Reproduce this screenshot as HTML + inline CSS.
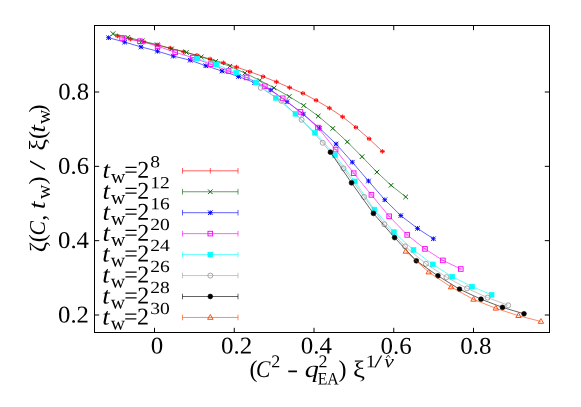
<!DOCTYPE html>
<html><head><meta charset="utf-8"><title>plot</title>
<style>
html,body{margin:0;padding:0;background:#fff;}
svg{display:block;will-change:transform;opacity:0.999;}
text{font-family:"Liberation Serif",serif;fill:#000;}
.i{font-style:italic;}
</style></head><body>
<svg width="581" height="407" viewBox="0 0 581 407">
<g stroke-width="0.62"><path d="M117.4 36.0L130.4 39.1L143.9 42.0L157.1 45.0L170.4 48.2L183.6 51.7L196.9 55.3L210.1 59.0L223.4 62.8L236.6 67.1L249.9 71.7L263.1 76.6L276.4 81.9L289.6 87.6L302.9 93.3L316.1 100.3L329.4 108.1L342.6 116.8L355.9 127.3L369.1 138.8L382.4 151.4" stroke="#ff0000" fill="none"/>
<path d="M115.1 36.0H119.7M117.4 33.7V38.3M116.0 34.5v3M118.8 34.5v3" stroke="#ff0000" fill="none" stroke-width="0.95"/><path d="M128.1 39.1H132.7M130.4 36.8V41.4M129.0 37.6v3M131.8 37.6v3" stroke="#ff0000" fill="none" stroke-width="0.95"/><path d="M141.6 42.0H146.2M143.9 39.7V44.3M142.5 40.5v3M145.3 40.5v3" stroke="#ff0000" fill="none" stroke-width="0.95"/><path d="M154.8 45.0H159.4M157.1 42.7V47.3M155.7 43.5v3M158.5 43.5v3" stroke="#ff0000" fill="none" stroke-width="0.95"/><path d="M168.1 48.2H172.7M170.4 45.9V50.5M169.0 46.7v3M171.8 46.7v3" stroke="#ff0000" fill="none" stroke-width="0.95"/><path d="M181.3 51.7H185.9M183.6 49.4V54.0M182.2 50.2v3M185.0 50.2v3" stroke="#ff0000" fill="none" stroke-width="0.95"/><path d="M194.6 55.3H199.2M196.9 53.0V57.6M195.5 53.8v3M198.3 53.8v3" stroke="#ff0000" fill="none" stroke-width="0.95"/><path d="M207.8 59.0H212.4M210.1 56.7V61.3M208.7 57.5v3M211.5 57.5v3" stroke="#ff0000" fill="none" stroke-width="0.95"/><path d="M221.1 62.8H225.7M223.4 60.5V65.1M222.0 61.3v3M224.8 61.3v3" stroke="#ff0000" fill="none" stroke-width="0.95"/><path d="M234.3 67.1H238.9M236.6 64.8V69.4M235.2 65.6v3M238.0 65.6v3" stroke="#ff0000" fill="none" stroke-width="0.95"/><path d="M247.6 71.7H252.2M249.9 69.4V74.0M248.5 70.2v3M251.3 70.2v3" stroke="#ff0000" fill="none" stroke-width="0.95"/><path d="M260.8 76.6H265.4M263.1 74.3V78.9M261.7 75.1v3M264.5 75.1v3" stroke="#ff0000" fill="none" stroke-width="0.95"/><path d="M274.1 81.9H278.7M276.4 79.6V84.2M275.0 80.4v3M277.8 80.4v3" stroke="#ff0000" fill="none" stroke-width="0.95"/><path d="M287.3 87.6H291.9M289.6 85.3V89.9M288.2 86.1v3M291.0 86.1v3" stroke="#ff0000" fill="none" stroke-width="0.95"/><path d="M300.6 93.3H305.2M302.9 91.0V95.6M301.5 91.8v3M304.3 91.8v3" stroke="#ff0000" fill="none" stroke-width="0.95"/><path d="M313.8 100.3H318.4M316.1 98.0V102.6M314.7 98.8v3M317.5 98.8v3" stroke="#ff0000" fill="none" stroke-width="0.95"/><path d="M327.1 108.1H331.7M329.4 105.8V110.4M328.0 106.6v3M330.8 106.6v3" stroke="#ff0000" fill="none" stroke-width="0.95"/><path d="M340.3 116.8H344.9M342.6 114.5V119.1M341.2 115.3v3M344.0 115.3v3" stroke="#ff0000" fill="none" stroke-width="0.95"/><path d="M353.6 127.3H358.2M355.9 125.0V129.6M354.5 125.8v3M357.3 125.8v3" stroke="#ff0000" fill="none" stroke-width="0.95"/><path d="M366.8 138.8H371.4M369.1 136.5V141.1M367.7 137.3v3M370.5 137.3v3" stroke="#ff0000" fill="none" stroke-width="0.95"/><path d="M380.1 151.4H384.7M382.4 149.1V153.7M381.0 149.9v3M383.8 149.9v3" stroke="#ff0000" fill="none" stroke-width="0.95"/></g>
<g stroke-width="0.62"><path d="M113.0 33.7L127.8 37.4L142.2 40.9L157.2 44.7L171.6 48.9L186.4 52.4L201.2 56.9L215.6 61.4L229.9 66.2L244.9 73.1L259.8 80.4L274.1 87.9L289.2 96.5L303.7 105.5L318.2 116.1L332.8 128.4L347.3 141.9L362.0 156.7L376.9 172.1L391.1 185.3L405.7 196.9" stroke="#006400" fill="none"/>
<path d="M110.7 31.4L115.3 36.0M110.7 36.0L115.3 31.4" stroke="#006400" fill="none" stroke-width="0.95"/><path d="M125.5 35.1L130.1 39.7M125.5 39.7L130.1 35.1" stroke="#006400" fill="none" stroke-width="0.95"/><path d="M139.9 38.6L144.5 43.2M139.9 43.2L144.5 38.6" stroke="#006400" fill="none" stroke-width="0.95"/><path d="M154.9 42.4L159.5 47.0M154.9 47.0L159.5 42.4" stroke="#006400" fill="none" stroke-width="0.95"/><path d="M169.3 46.6L173.9 51.2M169.3 51.2L173.9 46.6" stroke="#006400" fill="none" stroke-width="0.95"/><path d="M184.1 50.1L188.7 54.7M184.1 54.7L188.7 50.1" stroke="#006400" fill="none" stroke-width="0.95"/><path d="M198.9 54.6L203.5 59.2M198.9 59.2L203.5 54.6" stroke="#006400" fill="none" stroke-width="0.95"/><path d="M213.3 59.1L217.9 63.7M213.3 63.7L217.9 59.1" stroke="#006400" fill="none" stroke-width="0.95"/><path d="M227.6 63.9L232.2 68.5M227.6 68.5L232.2 63.9" stroke="#006400" fill="none" stroke-width="0.95"/><path d="M242.6 70.8L247.2 75.4M242.6 75.4L247.2 70.8" stroke="#006400" fill="none" stroke-width="0.95"/><path d="M257.5 78.1L262.1 82.7M257.5 82.7L262.1 78.1" stroke="#006400" fill="none" stroke-width="0.95"/><path d="M271.8 85.6L276.4 90.2M271.8 90.2L276.4 85.6" stroke="#006400" fill="none" stroke-width="0.95"/><path d="M286.9 94.2L291.5 98.8M286.9 98.8L291.5 94.2" stroke="#006400" fill="none" stroke-width="0.95"/><path d="M301.4 103.2L306.0 107.8M301.4 107.8L306.0 103.2" stroke="#006400" fill="none" stroke-width="0.95"/><path d="M315.9 113.8L320.5 118.4M315.9 118.4L320.5 113.8" stroke="#006400" fill="none" stroke-width="0.95"/><path d="M330.5 126.1L335.1 130.7M330.5 130.7L335.1 126.1" stroke="#006400" fill="none" stroke-width="0.95"/><path d="M345.0 139.6L349.6 144.2M345.0 144.2L349.6 139.6" stroke="#006400" fill="none" stroke-width="0.95"/><path d="M359.7 154.4L364.3 159.0M359.7 159.0L364.3 154.4" stroke="#006400" fill="none" stroke-width="0.95"/><path d="M374.6 169.8L379.2 174.4M374.6 174.4L379.2 169.8" stroke="#006400" fill="none" stroke-width="0.95"/><path d="M388.8 183.0L393.4 187.6M388.8 187.6L393.4 183.0" stroke="#006400" fill="none" stroke-width="0.95"/><path d="M403.4 194.6L408.0 199.2M403.4 199.2L408.0 194.6" stroke="#006400" fill="none" stroke-width="0.95"/></g>
<g stroke-width="0.62"><path d="M108.6 37.7L124.7 42.1L141.0 46.9L157.5 51.2L173.4 56.1L190.2 60.2L205.8 65.8L222.0 71.0L238.5 76.5L254.6 82.6L270.7 90.0L287.0 101.7L303.3 114.2L319.5 128.2L336.1 144.0L352.3 162.2L368.5 181.0L384.8 199.8L400.8 215.6L417.5 228.4L433.4 238.8" stroke="#0000ff" fill="none"/>
<path d="M106.3 35.4L110.9 40.0M106.3 40.0L110.9 35.4M106.3 37.7H110.9M108.6 35.4V40.0" stroke="#0000ff" fill="none" stroke-width="0.95"/><path d="M122.4 39.8L127.0 44.4M122.4 44.4L127.0 39.8M122.4 42.1H127.0M124.7 39.8V44.4" stroke="#0000ff" fill="none" stroke-width="0.95"/><path d="M138.7 44.6L143.3 49.2M138.7 49.2L143.3 44.6M138.7 46.9H143.3M141.0 44.6V49.2" stroke="#0000ff" fill="none" stroke-width="0.95"/><path d="M155.2 48.9L159.8 53.5M155.2 53.5L159.8 48.9M155.2 51.2H159.8M157.5 48.9V53.5" stroke="#0000ff" fill="none" stroke-width="0.95"/><path d="M171.1 53.8L175.7 58.4M171.1 58.4L175.7 53.8M171.1 56.1H175.7M173.4 53.8V58.4" stroke="#0000ff" fill="none" stroke-width="0.95"/><path d="M187.9 57.9L192.5 62.5M187.9 62.5L192.5 57.9M187.9 60.2H192.5M190.2 57.9V62.5" stroke="#0000ff" fill="none" stroke-width="0.95"/><path d="M203.5 63.5L208.1 68.1M203.5 68.1L208.1 63.5M203.5 65.8H208.1M205.8 63.5V68.1" stroke="#0000ff" fill="none" stroke-width="0.95"/><path d="M219.7 68.7L224.3 73.3M219.7 73.3L224.3 68.7M219.7 71.0H224.3M222.0 68.7V73.3" stroke="#0000ff" fill="none" stroke-width="0.95"/><path d="M236.2 74.2L240.8 78.8M236.2 78.8L240.8 74.2M236.2 76.5H240.8M238.5 74.2V78.8" stroke="#0000ff" fill="none" stroke-width="0.95"/><path d="M252.3 80.3L256.9 84.9M252.3 84.9L256.9 80.3M252.3 82.6H256.9M254.6 80.3V84.9" stroke="#0000ff" fill="none" stroke-width="0.95"/><path d="M268.4 87.7L273.0 92.3M268.4 92.3L273.0 87.7M268.4 90.0H273.0M270.7 87.7V92.3" stroke="#0000ff" fill="none" stroke-width="0.95"/><path d="M284.7 99.4L289.3 104.0M284.7 104.0L289.3 99.4M284.7 101.7H289.3M287.0 99.4V104.0" stroke="#0000ff" fill="none" stroke-width="0.95"/><path d="M301.0 111.9L305.6 116.5M301.0 116.5L305.6 111.9M301.0 114.2H305.6M303.3 111.9V116.5" stroke="#0000ff" fill="none" stroke-width="0.95"/><path d="M317.2 125.9L321.8 130.5M317.2 130.5L321.8 125.9M317.2 128.2H321.8M319.5 125.9V130.5" stroke="#0000ff" fill="none" stroke-width="0.95"/><path d="M333.8 141.7L338.4 146.3M333.8 146.3L338.4 141.7M333.8 144.0H338.4M336.1 141.7V146.3" stroke="#0000ff" fill="none" stroke-width="0.95"/><path d="M350.0 159.9L354.6 164.5M350.0 164.5L354.6 159.9M350.0 162.2H354.6M352.3 159.9V164.5" stroke="#0000ff" fill="none" stroke-width="0.95"/><path d="M366.2 178.7L370.8 183.3M366.2 183.3L370.8 178.7M366.2 181.0H370.8M368.5 178.7V183.3" stroke="#0000ff" fill="none" stroke-width="0.95"/><path d="M382.5 197.5L387.1 202.1M382.5 202.1L387.1 197.5M382.5 199.8H387.1M384.8 197.5V202.1" stroke="#0000ff" fill="none" stroke-width="0.95"/><path d="M398.5 213.3L403.1 217.9M398.5 217.9L403.1 213.3M398.5 215.6H403.1M400.8 213.3V217.9" stroke="#0000ff" fill="none" stroke-width="0.95"/><path d="M415.2 226.1L419.8 230.7M415.2 230.7L419.8 226.1M415.2 228.4H419.8M417.5 226.1V230.7" stroke="#0000ff" fill="none" stroke-width="0.95"/><path d="M431.1 236.5L435.7 241.1M431.1 241.1L435.7 236.5M431.1 238.8H435.7M433.4 236.5V241.1" stroke="#0000ff" fill="none" stroke-width="0.95"/></g>
<g stroke-width="0.62"><path d="M122.1 38.0L140.0 41.2L157.6 46.1L175.2 52.3L192.6 57.6L210.8 64.2L228.5 71.0L246.6 77.4L264.8 86.2L282.7 98.3L300.4 111.9L318.0 127.6L335.6 149.6L353.7 173.2L371.4 194.9L389.2 216.3L407.2 234.9L425.0 248.9L442.9 260.4L460.8 269.0" stroke="#ff00ff" fill="none"/>
<rect x="119.8" y="35.7" width="4.6" height="4.6" stroke="#ff00ff" fill="none" stroke-width="0.95"/><path d="M120.6 38.0h3" stroke="#ff00ff"/><rect x="137.7" y="38.9" width="4.6" height="4.6" stroke="#ff00ff" fill="none" stroke-width="0.95"/><path d="M138.5 41.2h3" stroke="#ff00ff"/><rect x="155.3" y="43.8" width="4.6" height="4.6" stroke="#ff00ff" fill="none" stroke-width="0.95"/><path d="M156.1 46.1h3" stroke="#ff00ff"/><rect x="172.9" y="50.0" width="4.6" height="4.6" stroke="#ff00ff" fill="none" stroke-width="0.95"/><path d="M173.7 52.3h3" stroke="#ff00ff"/><rect x="190.3" y="55.3" width="4.6" height="4.6" stroke="#ff00ff" fill="none" stroke-width="0.95"/><path d="M191.1 57.6h3" stroke="#ff00ff"/><rect x="208.5" y="61.9" width="4.6" height="4.6" stroke="#ff00ff" fill="none" stroke-width="0.95"/><path d="M209.3 64.2h3" stroke="#ff00ff"/><rect x="226.2" y="68.7" width="4.6" height="4.6" stroke="#ff00ff" fill="none" stroke-width="0.95"/><path d="M227.0 71.0h3" stroke="#ff00ff"/><rect x="244.3" y="75.1" width="4.6" height="4.6" stroke="#ff00ff" fill="none" stroke-width="0.95"/><path d="M245.1 77.4h3" stroke="#ff00ff"/><rect x="262.5" y="83.9" width="4.6" height="4.6" stroke="#ff00ff" fill="none" stroke-width="0.95"/><path d="M263.3 86.2h3" stroke="#ff00ff"/><rect x="280.4" y="96.0" width="4.6" height="4.6" stroke="#ff00ff" fill="none" stroke-width="0.95"/><path d="M281.2 98.3h3" stroke="#ff00ff"/><rect x="298.1" y="109.6" width="4.6" height="4.6" stroke="#ff00ff" fill="none" stroke-width="0.95"/><path d="M298.9 111.9h3" stroke="#ff00ff"/><rect x="315.7" y="125.3" width="4.6" height="4.6" stroke="#ff00ff" fill="none" stroke-width="0.95"/><path d="M316.5 127.6h3" stroke="#ff00ff"/><rect x="333.3" y="147.3" width="4.6" height="4.6" stroke="#ff00ff" fill="none" stroke-width="0.95"/><path d="M334.1 149.6h3" stroke="#ff00ff"/><rect x="351.4" y="170.9" width="4.6" height="4.6" stroke="#ff00ff" fill="none" stroke-width="0.95"/><path d="M352.2 173.2h3" stroke="#ff00ff"/><rect x="369.1" y="192.6" width="4.6" height="4.6" stroke="#ff00ff" fill="none" stroke-width="0.95"/><path d="M369.9 194.9h3" stroke="#ff00ff"/><rect x="386.9" y="214.0" width="4.6" height="4.6" stroke="#ff00ff" fill="none" stroke-width="0.95"/><path d="M387.7 216.3h3" stroke="#ff00ff"/><rect x="404.9" y="232.6" width="4.6" height="4.6" stroke="#ff00ff" fill="none" stroke-width="0.95"/><path d="M405.7 234.9h3" stroke="#ff00ff"/><rect x="422.7" y="246.6" width="4.6" height="4.6" stroke="#ff00ff" fill="none" stroke-width="0.95"/><path d="M423.5 248.9h3" stroke="#ff00ff"/><rect x="440.6" y="258.1" width="4.6" height="4.6" stroke="#ff00ff" fill="none" stroke-width="0.95"/><path d="M441.4 260.4h3" stroke="#ff00ff"/><rect x="458.5" y="266.7" width="4.6" height="4.6" stroke="#ff00ff" fill="none" stroke-width="0.95"/><path d="M459.3 269.0h3" stroke="#ff00ff"/></g>
<g stroke-width="0.62"><path d="M197.2 58.5L216.5 64.5L236.3 72.6L255.8 82.5L275.8 97.9L295.4 113.8L315.0 132.8L335.0 155.2L354.8 181.4L374.4 209.6L393.9 232.1L413.5 250.0L432.8 264.4L452.2 276.7L472.0 286.6L491.6 294.8" stroke="#00ffff" fill="none"/>
<rect x="194.8" y="56.1" width="4.8" height="4.8" stroke="#00ffff" fill="#00ffff"/><rect x="214.1" y="62.1" width="4.8" height="4.8" stroke="#00ffff" fill="#00ffff"/><rect x="233.9" y="70.2" width="4.8" height="4.8" stroke="#00ffff" fill="#00ffff"/><rect x="253.4" y="80.1" width="4.8" height="4.8" stroke="#00ffff" fill="#00ffff"/><rect x="273.4" y="95.5" width="4.8" height="4.8" stroke="#00ffff" fill="#00ffff"/><rect x="293.0" y="111.4" width="4.8" height="4.8" stroke="#00ffff" fill="#00ffff"/><rect x="312.6" y="130.4" width="4.8" height="4.8" stroke="#00ffff" fill="#00ffff"/><rect x="332.6" y="152.8" width="4.8" height="4.8" stroke="#00ffff" fill="#00ffff"/><rect x="352.4" y="179.0" width="4.8" height="4.8" stroke="#00ffff" fill="#00ffff"/><rect x="372.0" y="207.2" width="4.8" height="4.8" stroke="#00ffff" fill="#00ffff"/><rect x="391.5" y="229.7" width="4.8" height="4.8" stroke="#00ffff" fill="#00ffff"/><rect x="411.1" y="247.6" width="4.8" height="4.8" stroke="#00ffff" fill="#00ffff"/><rect x="430.4" y="262.0" width="4.8" height="4.8" stroke="#00ffff" fill="#00ffff"/><rect x="449.8" y="274.3" width="4.8" height="4.8" stroke="#00ffff" fill="#00ffff"/><rect x="469.6" y="284.2" width="4.8" height="4.8" stroke="#00ffff" fill="#00ffff"/><rect x="489.2" y="292.4" width="4.8" height="4.8" stroke="#00ffff" fill="#00ffff"/></g>
<g stroke-width="0.62"><path d="M260.8 87.8L281.3 100.8L301.6 119.8L322.7 142.8L343.5 168.4L364.1 196.9L384.4 224.3L405.0 246.4L425.9 263.8L446.5 277.2L467.0 288.4L487.6 297.6L508.2 305.3" stroke="#a0a0a0" fill="none"/>
<circle cx="260.8" cy="87.8" r="2.5" stroke="#a0a0a0" fill="none" stroke-width="0.95"/><circle cx="281.3" cy="100.8" r="2.5" stroke="#a0a0a0" fill="none" stroke-width="0.95"/><circle cx="301.6" cy="119.8" r="2.5" stroke="#a0a0a0" fill="none" stroke-width="0.95"/><circle cx="322.7" cy="142.8" r="2.5" stroke="#a0a0a0" fill="none" stroke-width="0.95"/><circle cx="343.5" cy="168.4" r="2.5" stroke="#a0a0a0" fill="none" stroke-width="0.95"/><circle cx="364.1" cy="196.9" r="2.5" stroke="#a0a0a0" fill="none" stroke-width="0.95"/><circle cx="384.4" cy="224.3" r="2.5" stroke="#a0a0a0" fill="none" stroke-width="0.95"/><circle cx="405.0" cy="246.4" r="2.5" stroke="#a0a0a0" fill="none" stroke-width="0.95"/><circle cx="425.9" cy="263.8" r="2.5" stroke="#a0a0a0" fill="none" stroke-width="0.95"/><circle cx="446.5" cy="277.2" r="2.5" stroke="#a0a0a0" fill="none" stroke-width="0.95"/><circle cx="467.0" cy="288.4" r="2.5" stroke="#a0a0a0" fill="none" stroke-width="0.95"/><circle cx="487.6" cy="297.6" r="2.5" stroke="#a0a0a0" fill="none" stroke-width="0.95"/><circle cx="508.2" cy="305.3" r="2.5" stroke="#a0a0a0" fill="none" stroke-width="0.95"/></g>
<g stroke-width="0.62"><path d="M330.4 152.2L351.5 182.8L373.4 213.4L394.6 237.6L416.3 260.8L437.9 275.8L459.5 289.2L481.0 299.2L502.5 307.4L524.0 313.8" stroke="#000000" fill="none"/>
<circle cx="330.4" cy="152.2" r="2.4" stroke="#000000" fill="#000000"/><circle cx="351.5" cy="182.8" r="2.4" stroke="#000000" fill="#000000"/><circle cx="373.4" cy="213.4" r="2.4" stroke="#000000" fill="#000000"/><circle cx="394.6" cy="237.6" r="2.4" stroke="#000000" fill="#000000"/><circle cx="416.3" cy="260.8" r="2.4" stroke="#000000" fill="#000000"/><circle cx="437.9" cy="275.8" r="2.4" stroke="#000000" fill="#000000"/><circle cx="459.5" cy="289.2" r="2.4" stroke="#000000" fill="#000000"/><circle cx="481.0" cy="299.2" r="2.4" stroke="#000000" fill="#000000"/><circle cx="502.5" cy="307.4" r="2.4" stroke="#000000" fill="#000000"/><circle cx="524.0" cy="313.8" r="2.4" stroke="#000000" fill="#000000"/></g>
<g stroke-width="0.62"><path d="M405.8 251.4L428.7 272.1L451.1 287.0L473.5 299.4L495.8 308.3L518.5 315.7L540.9 321.5" stroke="#ff4500" fill="none"/>
<path d="M405.8 248.5L408.5 253.2H403.1Z" stroke="#ff4500" fill="none" stroke-width="0.95"/><path d="M428.7 269.2L431.4 273.9H426.0Z" stroke="#ff4500" fill="none" stroke-width="0.95"/><path d="M451.1 284.1L453.8 288.8H448.4Z" stroke="#ff4500" fill="none" stroke-width="0.95"/><path d="M473.5 296.5L476.2 301.2H470.8Z" stroke="#ff4500" fill="none" stroke-width="0.95"/><path d="M495.8 305.4L498.5 310.1H493.1Z" stroke="#ff4500" fill="none" stroke-width="0.95"/><path d="M518.5 312.8L521.2 317.5H515.8Z" stroke="#ff4500" fill="none" stroke-width="0.95"/><path d="M540.9 318.6L543.6 323.3H538.2Z" stroke="#ff4500" fill="none" stroke-width="0.95"/></g>
<g stroke-width="0.62"><path d="M182.5 170.80H238.0M182.5 168.00v5.6M238.0 168.00v5.6" stroke="#ff0000" fill="none"/><path d="M210.3 168.0V173.6" stroke="#ff0000" fill="none"/></g>
<g stroke-width="0.62"><path d="M182.5 191.75H238.0M182.5 188.95v5.6M238.0 188.95v5.6" stroke="#006400" fill="none"/><path d="M208.0 189.4L212.6 194.1M208.0 194.1L212.6 189.4" stroke="#006400" fill="none" stroke-width="0.95"/></g>
<g stroke-width="0.62"><path d="M182.5 212.70H238.0M182.5 209.90v5.6M238.0 209.90v5.6" stroke="#0000ff" fill="none"/><path d="M208.0 210.4L212.6 215.0M208.0 215.0L212.6 210.4M208.0 212.7H212.6M210.3 210.4V215.0" stroke="#0000ff" fill="none" stroke-width="0.95"/></g>
<g stroke-width="0.62"><path d="M182.5 233.65H238.0M182.5 230.85v5.6M238.0 230.85v5.6" stroke="#ff00ff" fill="none"/><rect x="208.0" y="231.3" width="4.6" height="4.6" stroke="#ff00ff" fill="none" stroke-width="0.95"/><path d="M208.8 233.7h3" stroke="#ff00ff"/></g>
<g stroke-width="0.62"><path d="M182.5 254.60H238.0M182.5 251.80v5.6M238.0 251.80v5.6" stroke="#00ffff" fill="none"/><rect x="207.9" y="252.2" width="4.8" height="4.8" stroke="#00ffff" fill="#00ffff"/></g>
<g stroke-width="0.62"><path d="M182.5 275.55H238.0M182.5 272.75v5.6M238.0 272.75v5.6" stroke="#a0a0a0" fill="none"/><circle cx="210.3" cy="275.6" r="2.5" stroke="#a0a0a0" fill="none" stroke-width="0.95"/></g>
<g stroke-width="0.62"><path d="M182.5 296.50H238.0M182.5 293.70v5.6M238.0 293.70v5.6" stroke="#000000" fill="none"/><circle cx="210.3" cy="296.5" r="2.4" stroke="#000000" fill="#000000"/></g>
<g stroke-width="0.62"><path d="M182.5 317.45H238.0M182.5 314.65v5.6M238.0 314.65v5.6" stroke="#ff4500" fill="none"/><path d="M210.3 314.6L213.0 319.3H207.6Z" stroke="#ff4500" fill="none" stroke-width="0.95"/></g>
<rect x="94.5" y="25.5" width="455.0" height="307.0" fill="none" stroke="#000" stroke-width="1"/>
<path d="M154.5 332.5v-4.7M154.5 25.5v4.7M234.25 332.5v-4.7M234.25 25.5v4.7M314.0 332.5v-4.7M314.0 25.5v4.7M393.75 332.5v-4.7M393.75 25.5v4.7M473.5 332.5v-4.7M473.5 25.5v4.7M94.5 92.0h4.7M549.5 92.0h-4.7M94.5 166.33h4.7M549.5 166.33h-4.7M94.5 240.67h4.7M549.5 240.67h-4.7M94.5 315.0h4.7M549.5 315.0h-4.7" stroke="#000" stroke-width="1" fill="none"/>
<g transform="rotate(0.03 290 200)">
<text transform="translate(102.40,177.90) scale(1.12,1)" font-size="24.00" text-anchor="start" class="i">t</text>
<text transform="translate(110.90,182.90) scale(1.04,1)" font-size="19.00" text-anchor="start">w</text>
<text x="124.20" y="177.90" font-size="24.00" text-anchor="start">=</text>
<text x="137.20" y="177.90" font-size="24.00" text-anchor="start">2</text>
<text transform="translate(150.20,167.30) scale(1.15,1)" font-size="17.00" text-anchor="start">8</text>
<text transform="translate(102.40,198.85) scale(1.12,1)" font-size="24.00" text-anchor="start" class="i">t</text>
<text transform="translate(110.90,203.85) scale(1.04,1)" font-size="19.00" text-anchor="start">w</text>
<text x="124.20" y="198.85" font-size="24.00" text-anchor="start">=</text>
<text x="137.20" y="198.85" font-size="24.00" text-anchor="start">2</text>
<text transform="translate(150.20,188.25) scale(1.15,1)" font-size="17.00" text-anchor="start">12</text>
<text transform="translate(102.40,219.80) scale(1.12,1)" font-size="24.00" text-anchor="start" class="i">t</text>
<text transform="translate(110.90,224.80) scale(1.04,1)" font-size="19.00" text-anchor="start">w</text>
<text x="124.20" y="219.80" font-size="24.00" text-anchor="start">=</text>
<text x="137.20" y="219.80" font-size="24.00" text-anchor="start">2</text>
<text transform="translate(150.20,209.20) scale(1.15,1)" font-size="17.00" text-anchor="start">16</text>
<text transform="translate(102.40,240.75) scale(1.12,1)" font-size="24.00" text-anchor="start" class="i">t</text>
<text transform="translate(110.90,245.75) scale(1.04,1)" font-size="19.00" text-anchor="start">w</text>
<text x="124.20" y="240.75" font-size="24.00" text-anchor="start">=</text>
<text x="137.20" y="240.75" font-size="24.00" text-anchor="start">2</text>
<text transform="translate(150.20,230.15) scale(1.15,1)" font-size="17.00" text-anchor="start">20</text>
<text transform="translate(102.40,261.70) scale(1.12,1)" font-size="24.00" text-anchor="start" class="i">t</text>
<text transform="translate(110.90,266.70) scale(1.04,1)" font-size="19.00" text-anchor="start">w</text>
<text x="124.20" y="261.70" font-size="24.00" text-anchor="start">=</text>
<text x="137.20" y="261.70" font-size="24.00" text-anchor="start">2</text>
<text transform="translate(150.20,251.10) scale(1.15,1)" font-size="17.00" text-anchor="start">24</text>
<text transform="translate(102.40,282.65) scale(1.12,1)" font-size="24.00" text-anchor="start" class="i">t</text>
<text transform="translate(110.90,287.65) scale(1.04,1)" font-size="19.00" text-anchor="start">w</text>
<text x="124.20" y="282.65" font-size="24.00" text-anchor="start">=</text>
<text x="137.20" y="282.65" font-size="24.00" text-anchor="start">2</text>
<text transform="translate(150.20,272.05) scale(1.15,1)" font-size="17.00" text-anchor="start">26</text>
<text transform="translate(102.40,303.60) scale(1.12,1)" font-size="24.00" text-anchor="start" class="i">t</text>
<text transform="translate(110.90,308.60) scale(1.04,1)" font-size="19.00" text-anchor="start">w</text>
<text x="124.20" y="303.60" font-size="24.00" text-anchor="start">=</text>
<text x="137.20" y="303.60" font-size="24.00" text-anchor="start">2</text>
<text transform="translate(150.20,293.00) scale(1.15,1)" font-size="17.00" text-anchor="start">28</text>
<text transform="translate(102.40,324.55) scale(1.12,1)" font-size="24.00" text-anchor="start" class="i">t</text>
<text transform="translate(110.90,329.55) scale(1.04,1)" font-size="19.00" text-anchor="start">w</text>
<text x="124.20" y="324.55" font-size="24.00" text-anchor="start">=</text>
<text x="137.20" y="324.55" font-size="24.00" text-anchor="start">2</text>
<text transform="translate(150.20,313.95) scale(1.15,1)" font-size="17.00" text-anchor="start">30</text>
<text transform="translate(157.00,353.60) scale(1.04,1)" font-size="24.00" text-anchor="middle">0</text>
<text transform="translate(236.75,353.60) scale(1.04,1)" font-size="24.00" text-anchor="middle">0.2</text>
<text transform="translate(316.50,353.60) scale(1.04,1)" font-size="24.00" text-anchor="middle">0.4</text>
<text transform="translate(396.25,353.60) scale(1.04,1)" font-size="24.00" text-anchor="middle">0.6</text>
<text transform="translate(476.00,353.60) scale(1.04,1)" font-size="24.00" text-anchor="middle">0.8</text>
<text transform="translate(89.00,99.50) scale(1.03,1)" font-size="24.00" text-anchor="end">0.8</text>
<text transform="translate(89.00,173.83) scale(1.03,1)" font-size="24.00" text-anchor="end">0.6</text>
<text transform="translate(89.00,248.17) scale(1.03,1)" font-size="24.00" text-anchor="end">0.4</text>
<text transform="translate(89.00,322.50) scale(1.03,1)" font-size="24.00" text-anchor="end">0.2</text>
<text x="249.50" y="377.10" font-size="24.00" text-anchor="start">(</text>
<text transform="translate(256.00,377.10) scale(0.9,1)" font-size="24.00" text-anchor="start" class="i">C</text>
<text x="271.30" y="367.20" font-size="18.00" text-anchor="start">2</text>
<text transform="translate(287.00,377.10) scale(1.4,1)" font-size="24.00" text-anchor="start">-</text>
<text transform="translate(304.90,377.10) scale(1.18,1)" font-size="24.00" text-anchor="start" class="i">q</text>
<text x="318.60" y="367.20" font-size="18.00" text-anchor="start">2</text>
<text transform="translate(317.80,384.40) scale(0.9,1)" font-size="17.60" text-anchor="start">EA</text>
<text x="338.60" y="377.10" font-size="24.00" text-anchor="start">)</text>
<text transform="translate(353.20,377.10) scale(1.12,1)" font-size="24.00" text-anchor="start">ξ</text>
<text transform="translate(365.80,367.20) scale(1.1,1)" font-size="18.00" text-anchor="start">1</text>
<text transform="translate(374.30,367.20) scale(1.6,1)" font-size="18.00" text-anchor="start">/</text>
<text transform="translate(384.30,367.20) scale(1.2,1)" font-size="18.00" text-anchor="start" class="i">ν</text>
<path d="M386.3 357.8L388.3 355.0L390.3 357.8" stroke="#000" stroke-width="0.8" fill="none"/>
</g>
<text transform="translate(44.70,252.30) rotate(-90) scale(1.05,1)" font-size="24.00">ζ</text>
<text transform="translate(44.70,242.20) rotate(-90) scale(1.0,1)" font-size="24.00">(</text>
<text transform="translate(44.70,235.50) rotate(-90) scale(0.9,1)" font-size="24.00" class="i">C</text>
<text transform="translate(44.70,220.80) rotate(-90) scale(1.0,1)" font-size="24.00">,</text>
<text transform="translate(44.70,209.00) rotate(-90) scale(1.12,1)" font-size="24.00" class="i">t</text>
<text transform="translate(50.20,199.00) rotate(-90) scale(1.04,1)" font-size="19.00">w</text>
<text transform="translate(44.70,184.50) rotate(-90) scale(1.0,1)" font-size="24.00">)</text>
<text transform="translate(44.70,170.30) rotate(-90) scale(1.5,1)" font-size="24.00">/</text>
<text transform="translate(44.70,150.80) rotate(-90) scale(1.1,1)" font-size="24.00">ξ</text>
<text transform="translate(44.70,139.00) rotate(-90) scale(1.0,1)" font-size="24.00">(</text>
<text transform="translate(44.70,132.40) rotate(-90) scale(1.12,1)" font-size="24.00" class="i">t</text>
<text transform="translate(50.20,124.00) rotate(-90) scale(1.04,1)" font-size="19.00">w</text>
<text transform="translate(44.70,112.60) rotate(-90) scale(1.0,1)" font-size="24.00">)</text>
</svg>
</body></html>
